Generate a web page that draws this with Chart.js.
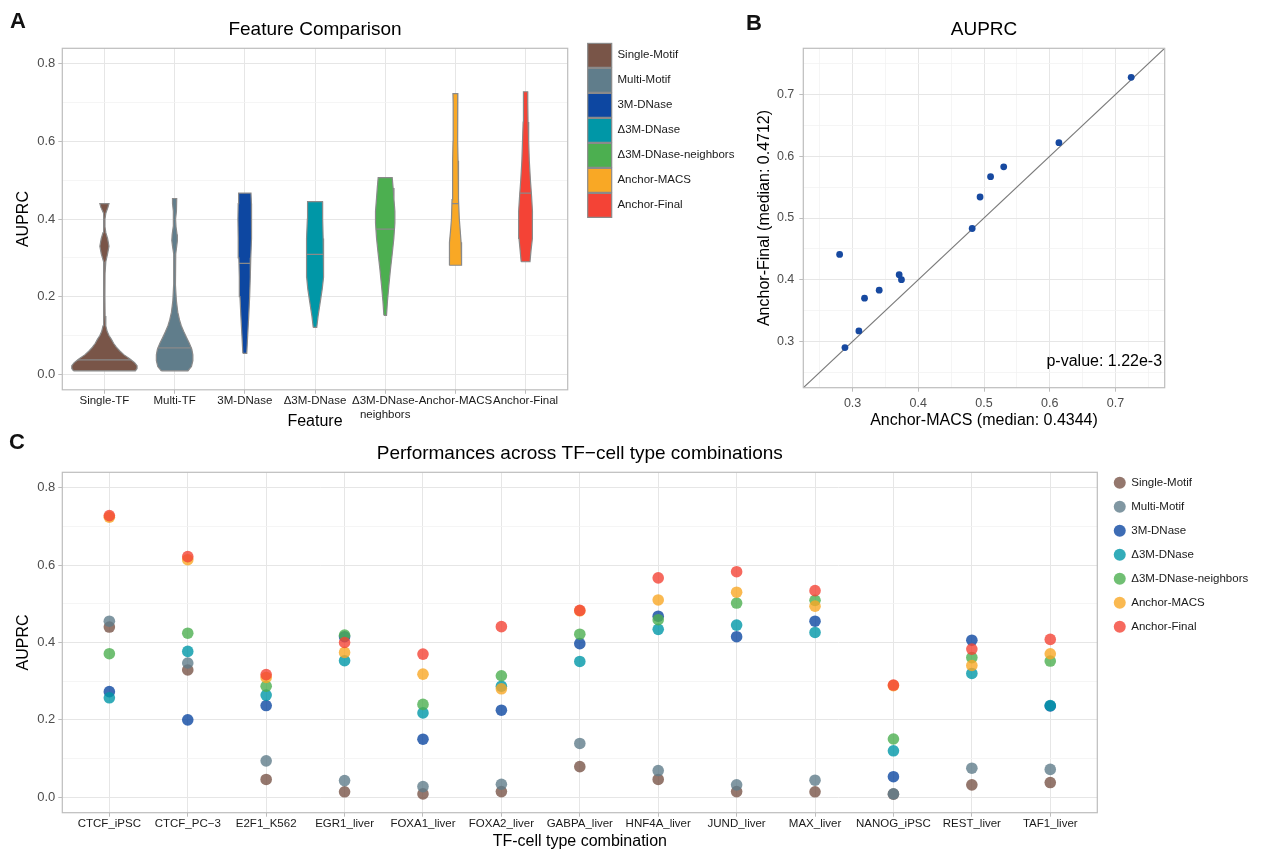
<!DOCTYPE html>
<html>
<head>
<meta charset="utf-8">
<script src="https://cdn.jsdelivr.net/npm/chart.js@4"></script>
<style>
  html, body { margin: 0; padding: 0; background: #fff; width: 1264px; height: 849px; overflow: hidden; }
  .panel { position: absolute; }
  .tag { position: absolute; font: bold 22px "Liberation Sans", Arial, sans-serif; line-height: 22px; color: #111; }
</style>
</head>
<body>
<div class="panel" style="left:0;top:0;width:800px;height:440px"><canvas id="chartA"></canvas></div>
<div class="panel" style="left:745px;top:0;width:478px;height:440px"><canvas id="chartB"></canvas></div>
<div class="panel" style="left:0;top:440px;width:1264px;height:420px"><canvas id="chartC"></canvas></div>
<div class="tag" style="left:10px;top:10px">A</div>
<div class="tag" style="left:746px;top:12px">B</div>
<div class="tag" style="left:9px;top:431px">C</div>

<script>
const FONT = '"Liberation Sans", Arial, sans-serif';
Chart.defaults.font.family = FONT;
Chart.defaults.color = '#4d4d4d';

// ---- shared categories / colours ----
const seriesNames = ['Single-Motif', 'Multi-Motif', '3M-DNase', 'Δ3M-DNase', 'Δ3M-DNase-neighbors', 'Anchor-MACS', 'Anchor-Final'];
const seriesColors = ['#795548', '#607D8B', '#0D47A1', '#0097A7', '#4CAF50', '#F9A825', '#F44336'];

// ---- panel A: violin outlines (AUPRC level, half width in category units) ----
const featureLabels = ['Single-TF', 'Multi-TF', '3M-DNase', 'Δ3M-DNase', ['Δ3M-DNase-', 'neighbors'], 'Anchor-MACS', 'Anchor-Final'];
const singleTfY = [0.009, 0.015, 0.022, 0.030, 0.040, 0.050, 0.060, 0.070, 0.080, 0.090, 0.100, 0.110, 0.125, 0.150, 0.200, 0.260, 0.290, 0.310, 0.330, 0.350, 0.365, 0.380, 0.400, 0.415, 0.430, 0.440];
const singleTfW = [0.44, 0.465, 0.465, 0.43, 0.36, 0.28, 0.22, 0.17, 0.13, 0.10, 0.065, 0.04, 0.02, 0.01, 0.007, 0.009, 0.02, 0.045, 0.065, 0.045, 0.02, 0.008, 0.008, 0.02, 0.05, 0.065];
const multiTfY = [0.009, 0.020, 0.035, 0.050, 0.065, 0.080, 0.095, 0.110, 0.125, 0.140, 0.160, 0.190, 0.230, 0.280, 0.310, 0.330, 0.345, 0.360, 0.380, 0.400, 0.420, 0.440, 0.453];
const multiTfW = [0.19, 0.24, 0.26, 0.26, 0.245, 0.21, 0.17, 0.13, 0.095, 0.07, 0.045, 0.025, 0.014, 0.01, 0.016, 0.03, 0.04, 0.035, 0.02, 0.014, 0.022, 0.03, 0.03];
const dnaseY = [0.054, 0.10, 0.15, 0.20, 0.25, 0.30, 0.35, 0.40, 0.44, 0.467];
const dnaseW = [0.028, 0.041, 0.056, 0.069, 0.078, 0.085, 0.094, 0.098, 0.094, 0.088];
const deltaY = [0.121, 0.15, 0.19, 0.22, 0.25, 0.30, 0.35, 0.40, 0.445];
const deltaW = [0.025, 0.044, 0.078, 0.103, 0.119, 0.125, 0.116, 0.109, 0.106];
const neighborsY = [0.152, 0.19, 0.23, 0.27, 0.31, 0.35, 0.39, 0.42, 0.45, 0.48, 0.507];
const neighborsW = [0.019, 0.033, 0.053, 0.075, 0.1, 0.123, 0.138, 0.138, 0.125, 0.113, 0.1];
const macsY = [0.281, 0.31, 0.34, 0.37, 0.40, 0.45, 0.50, 0.55, 0.60, 0.65, 0.70, 0.723];
const macsW = [0.088, 0.088, 0.081, 0.069, 0.056, 0.048, 0.041, 0.038, 0.034, 0.03, 0.033, 0.035];
const finalY = [0.29, 0.32, 0.35, 0.38, 0.42, 0.46, 0.50, 0.55, 0.60, 0.65, 0.70, 0.728];
const finalW = [0.063, 0.078, 0.094, 0.1, 0.098, 0.085, 0.069, 0.053, 0.044, 0.035, 0.031, 0.03];
const violinMedian = [0.037, 0.068, 0.286, 0.309, 0.374, 0.44, 0.467];
const medianHalfWidth = [0.38, 0.24, 0.083, 0.122, 0.133, 0.049, 0.083];
const aucMajor = [0, 0.2, 0.4, 0.6, 0.8];
const aucMinor = [0.1, 0.3, 0.5, 0.7];

// ---- panel C: AUPRC per TF-cell combination ----
const combos = ['CTCF_iPSC', 'CTCF_PC−3', 'E2F1_K562', 'EGR1_liver', 'FOXA1_liver', 'FOXA2_liver', 'GABPA_liver', 'HNF4A_liver', 'JUND_liver', 'MAX_liver', 'NANOG_iPSC', 'REST_liver', 'TAF1_liver'];
const singleMotif = [0.440, 0.329, 0.046, 0.014, 0.0086, 0.0146, 0.079, 0.046, 0.0146, 0.014, 0.008, 0.032, 0.038];
const multiMotif = [0.455, 0.347, 0.094, 0.043, 0.0275, 0.0335, 0.139, 0.069, 0.032, 0.044, 0.0086, 0.075, 0.072];
const dnase3M = [0.273, 0.200, 0.237, 0.415, 0.150, 0.225, 0.397, 0.468, 0.415, 0.455, 0.053, 0.406, 0.236];
const delta3M = [0.257, 0.377, 0.264, 0.353, 0.218, 0.287, 0.351, 0.434, 0.445, 0.426, 0.120, 0.320, 0.237];
const delta3MNeighbors = [0.371, 0.424, 0.287, 0.419, 0.240, 0.314, 0.4215, 0.459, 0.502, 0.509, 0.1505, 0.361, 0.352];
const anchorMacs = [0.724, 0.614, 0.3096, 0.3744, 0.3182, 0.2803, 0.482, 0.510, 0.530, 0.494, 0.2884, 0.3405, 0.3709];
const anchorFinal = [0.728, 0.622, 0.317, 0.400, 0.370, 0.441, 0.483, 0.567, 0.583, 0.534, 0.290, 0.383, 0.408];

// ---- panel B axis ticks ----
const bMajor = [0.3, 0.4, 0.5, 0.6, 0.7];
const bMinor = [0.25, 0.35, 0.45, 0.55, 0.65, 0.75];

const GRID_MAJOR = '#e6e6e6';
const GRID_MINOR = '#f2f2f2';
const FRAME = '#bdbdbd';
const OUTLINE = '#8a8a8a';
const CLEAR = 'rgba(0,0,0,0)';

const near = (list, v) => list.some(m => Math.abs(m - v) < 1e-6);
function withAlpha(hex, a) {
  const n = parseInt(hex.slice(1), 16);
  return `rgba(${n >> 16},${(n >> 8) & 255},${n & 255},${a})`;
}

// frame round the panel, title above it, optional corner note
const panelDecor = {
  id: 'panelDecor',
  afterDatasetsDraw(chart) {
    const { ctx, chartArea: a } = chart;
    ctx.save();
    ctx.strokeStyle = FRAME;
    ctx.lineWidth = 1.2;
    ctx.strokeRect(a.left, a.top, a.right - a.left, a.bottom - a.top);
    ctx.restore();
  },
  afterDraw(chart, args, opts) {
    const { ctx, chartArea: a } = chart;
    ctx.save();
    ctx.fillStyle = '#000';
    ctx.font = '19px ' + FONT;
    ctx.textAlign = 'center';
    ctx.textBaseline = 'middle';
    ctx.fillText(opts.title, (a.left + a.right) / 2, opts.titleY);
    if (opts.note) {
      ctx.font = '16px ' + FONT;
      ctx.textAlign = 'right';
      ctx.textBaseline = 'alphabetic';
      ctx.fillText(opts.note, a.right - 2.6, a.bottom - 21.5);
    }
    ctx.restore();
  }
};

function valueAxis(major, minor, min, max, size, pad, extra) {
  return Object.assign({
    type: 'linear', min: min, max: max,
    afterBuildTicks: s => { s.ticks = major.concat(minor).sort((p, q) => p - q).map(v => ({ value: v })); },
    ticks: {
      autoSkip: false, maxRotation: 0, color: '#4d4d4d', font: { size: size }, padding: pad,
      callback: v => near(major, v) ? v.toFixed(1) : ''
    },
    grid: {
      color: c => near(major, c.tick.value) ? GRID_MAJOR : GRID_MINOR,
      lineWidth: c => near(major, c.tick.value) ? 1 : 0.8,
      tickLength: 4, tickWidth: 1,
      tickColor: c => near(major, c.tick.value) ? FRAME : CLEAR
    },
    border: { display: false }
  }, extra);
}

function categoryAxis(labels, extra) {
  return Object.assign({
    type: 'linear', min: 0.4, max: labels.length + 0.6,
    afterBuildTicks: s => { s.ticks = labels.map((l, i) => ({ value: i + 1 })); },
    ticks: {
      autoSkip: false, maxRotation: 0, minRotation: 0, color: '#1a1a1a', font: { size: 11.5 }, padding: 0,
      callback: v => labels[Math.round(v) - 1]
    },
    grid: { color: GRID_MAJOR, lineWidth: 1, tickLength: 4, tickWidth: 1, tickColor: FRAME },
    border: { display: false }
  }, extra);
}

function spacer(position, size) {
  const horizontal = position === 'top' || position === 'bottom';
  return {
    type: 'linear', position: position, display: true,
    grid: { display: false, drawTicks: false }, ticks: { display: false }, border: { display: false },
    afterFit: s => { if (horizontal) s.height = size; else s.width = size; }
  };
}

function axisTitle(text, padding) {
  return { display: true, text: text, color: '#000', font: { size: 16 }, padding: padding };
}

// keep the plot's right edge where the legend leaves it
function pinRight(chart, target) {
  for (let k = 0; k < 3; k++) {
    const dx = chart.chartArea.right - target;
    if (Math.abs(dx) < 0.05) break;
    chart.options.layout.padding.right += dx;
    chart.update('none');
  }
}

// ================= A =================
const violinY = [singleTfY, multiTfY, dnaseY, deltaY, neighborsY, macsY, finalY];
const violinW = [singleTfW, multiTfW, dnaseW, deltaW, neighborsW, macsW, finalW];

const violinSets = violinY.map((ys, k) => {
  const c = k + 1, w = violinW[k];
  const left = ys.map((y, i) => ({ x: c - w[i], y: y }));
  const right = ys.map((y, i) => ({ x: c + w[i], y: y })).reverse();
  return {
    label: seriesNames[k], data: left.concat(right, [left[0]]),
    showLine: true, fill: 'shape', tension: 0,
    backgroundColor: seriesColors[k], borderColor: OUTLINE, borderWidth: 1.2,
    pointRadius: 0, pointHoverRadius: 0, order: 1
  };
});
const medianSets = violinMedian.map((m, k) => ({
  label: 'median',
  data: [{ x: k + 1 - medianHalfWidth[k], y: m }, { x: k + 1 + medianHalfWidth[k], y: m }],
  showLine: true, fill: false, borderColor: OUTLINE, borderWidth: 1.2,
  pointRadius: 0, pointHoverRadius: 0, order: 0
}));

const chartA = new Chart(document.getElementById('chartA'), {
  type: 'scatter',
  data: { datasets: violinSets.concat(medianSets) },
  plugins: [panelDecor],
  options: {
    responsive: true, maintainAspectRatio: false, animation: false, devicePixelRatio: 1,
    layout: { padding: { top: 42.3, left: 0, right: 40, bottom: 0 } },
    scales: {
      x: categoryAxis(featureLabels, {
        afterFit: s => { s.height = 50.2; },
        title: axisTitle('Feature', { bottom: 8.7 })
      }),
      y: valueAxis(aucMajor, aucMinor, -0.04, 0.84, 13, 3, {
        afterFit: s => { s.width = 62.3; },
        title: axisTitle('AUPRC', { top: 13.8 })
      }),
      padTop: spacer('top', 6),
      padRight: spacer('right', 19)
    },
    plugins: {
      panelDecor: { title: 'Feature Comparison', titleY: 30 },
      tooltip: { enabled: false },
      legend: {
        position: 'right', align: 'start', maxWidth: 220,
        labels: {
          boxWidth: 24, boxHeight: 24, padding: 1, color: '#1a1a1a', font: { size: 11.5 },
          filter: item => item.datasetIndex < violinSets.length,
          sort: (p, q) => p.datasetIndex - q.datasetIndex
        }
      }
    }
  }
});
pinRight(chartA, 567.7);

// ================= B =================
const bMin = 0.225, bMax = 0.775;
new Chart(document.getElementById('chartB'), {
  type: 'scatter',
  data: {
    datasets: [
      {
        label: 'TF-cell type',
        data: anchorMacs.map((x, i) => ({ x: x, y: anchorFinal[i] })),
        backgroundColor: '#1749a0', borderWidth: 0, pointRadius: 3.4, pointHoverRadius: 3.4
      },
      {
        label: 'y = x',
        data: [{ x: bMin, y: bMin }, { x: bMax, y: bMax }],
        showLine: true, borderColor: '#7a7a7a', borderWidth: 1.2, pointRadius: 0, pointHoverRadius: 0
      }
    ]
  },
  plugins: [panelDecor],
  options: {
    responsive: true, maintainAspectRatio: false, animation: false, devicePixelRatio: 1,
    layout: { padding: { top: 48.3, left: 0, right: 58.3, bottom: 0 } },
    scales: {
      x: valueAxis(bMajor, bMinor, bMin, bMax, 12.5, 4, {
        afterFit: s => { s.height = 52.3; },
        title: axisTitle('Anchor-MACS (median: 0.4344)', { bottom: 9.7 })
      }),
      y: valueAxis(bMajor, bMinor, bMin, bMax, 12.5, 5, {
        afterFit: s => { s.width = 58.3; },
        title: axisTitle('Anchor-Final (median: 0.4712)', { top: 10.4 })
      })
    },
    plugins: {
      panelDecor: { title: 'AUPRC', titleY: 30, note: 'p-value: 1.22e-3' },
      legend: { display: false },
      tooltip: { enabled: false }
    }
  }
});

// ================= C =================
const perfSeries = [singleMotif, multiMotif, dnase3M, delta3M, delta3MNeighbors, anchorMacs, anchorFinal];
const chartC = new Chart(document.getElementById('chartC'), {
  type: 'scatter',
  data: {
    datasets: perfSeries.map((vals, k) => ({
      label: seriesNames[k],
      data: vals.map((v, i) => ({ x: i + 1, y: v })),
      backgroundColor: withAlpha(seriesColors[k], 0.8), borderColor: CLEAR, borderWidth: 0,
      pointRadius: 5.8, pointHoverRadius: 5.8, order: perfSeries.length - k
    }))
  },
  plugins: [panelDecor],
  options: {
    responsive: true, maintainAspectRatio: false, animation: false, devicePixelRatio: 1,
    layout: { padding: { top: 24.45, left: 0, right: 3, bottom: 0 } },
    scales: {
      x: categoryAxis(combos, {
        afterFit: s => { s.height = 47.3; },
        title: axisTitle('TF-cell type combination', { bottom: 8.7 })
      }),
      y: valueAxis(aucMajor, aucMinor, -0.04, 0.84, 13, 3, {
        afterFit: s => { s.width = 62.3; },
        title: axisTitle('AUPRC', { top: 13.8 })
      }),
      padTop: spacer('top', 7.85),
      padRight: spacer('right', 4.2)
    },
    plugins: {
      panelDecor: { title: 'Performances across TF−cell type combinations', titleY: 13.3 },
      tooltip: { enabled: false },
      legend: {
        position: 'right', align: 'start', maxWidth: 220,
        labels: {
          usePointStyle: true, pointStyle: 'circle', boxWidth: 11.5, boxHeight: 8.5,
          padding: 12.5, color: '#1a1a1a', font: { size: 11.5 },
          sort: (p, q) => p.datasetIndex - q.datasetIndex
        }
      }
    }
  }
});
pinRight(chartC, 1097.3);
</script>
</body>
</html>
